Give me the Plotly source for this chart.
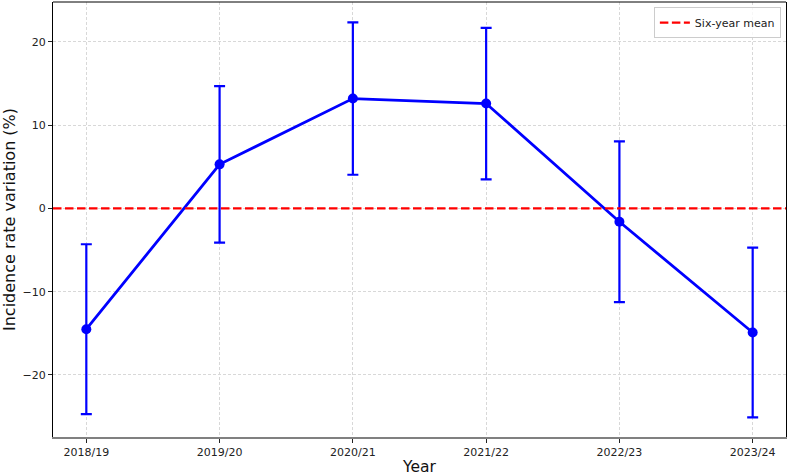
import plotly.graph_objects as go

years = ["2018/19", "2019/20", "2020/21", "2021/22", "2022/23", "2023/24"]
variation = [-14.5, 5.3, 13.2, 12.6, -1.6, -14.9]
error = [10.2, 9.4, 9.15, 9.1, 9.65, 10.2]
mean_label = "Six-year mean"
mean_value = 0.0
y_ticks = [-20, -10, 0, 10, 20]
y_ticktext = ["\u221220", "\u221210", "0", "10", "20"]

FONT = "DejaVu Sans"

fig = go.Figure()
fig.add_trace(go.Scatter(
    x=years, y=variation,
    mode="lines+markers",
    line=dict(color="#0000ff", width=2.8),
    marker=dict(color="#0000ff", size=10),
    error_y=dict(type="data", array=error, visible=True, color="#0000ff", thickness=2.2, width=5.5),
    showlegend=False,
))
# legend entry for the mean line
fig.add_trace(go.Scatter(
    x=[None], y=[None], mode="lines", name=mean_label,
    line=dict(color="#ff0000", width=2.2, dash="8.5px,3.5px"),
))
fig.add_shape(type="line", xref="paper", x0=0, x1=1, yref="y", y0=mean_value, y1=mean_value,
              line=dict(color="#ff0000", width=2.2, dash="8.5px,3.5px"), layer="above")
# top spine
fig.add_shape(type="line", xref="paper", x0=0, x1=1, yref="paper", y0=1, y1=1,
              line=dict(color="#000000", width=1))

fig.update_layout(
    width=789, height=476,
    margin=dict(l=53, r=3, t=2, b=39),
    paper_bgcolor="white", plot_bgcolor="white",
    font=dict(family=FONT, size=11, color="#222222"),
    legend=dict(x=0.993, y=0.988, xanchor="right", yanchor="top",
                bgcolor="rgba(255,255,255,0.8)", bordercolor="#cccccc", borderwidth=1,
                font=dict(size=11, color="#222222"), itemwidth=30),
)
fig.update_xaxes(
    type="category", range=[-0.25, 5.25], automargin=False,
    showgrid=True, gridcolor="#d8d8d8", griddash="3px,2px", gridwidth=0.8,
    showline=True, linecolor="#808080", linewidth=2,
    ticks="outside", ticklen=4, tickcolor="#222222",
    title=dict(text="Year", font=dict(size=15.5, color="#111111"), standoff=4),
    zeroline=False,
)
fig.update_yaxes(
    range=[-27.45, 24.8], automargin=False,
    tickvals=y_ticks, ticktext=y_ticktext,
    showgrid=True, gridcolor="#d8d8d8", griddash="3px,2px", gridwidth=0.8,
    showline=True, linecolor="#000000", linewidth=1, mirror=True,
    ticks="outside", ticklen=4, tickcolor="#222222",
    title=dict(text="Incidence rate variation (%)", font=dict(size=16, color="#111111"), standoff=8),
    zeroline=False,
)

fig.write_html("out.html", config={"displayModeBar": False},
               post_script="document.body.style.margin='0';document.body.style.padding='0';")
